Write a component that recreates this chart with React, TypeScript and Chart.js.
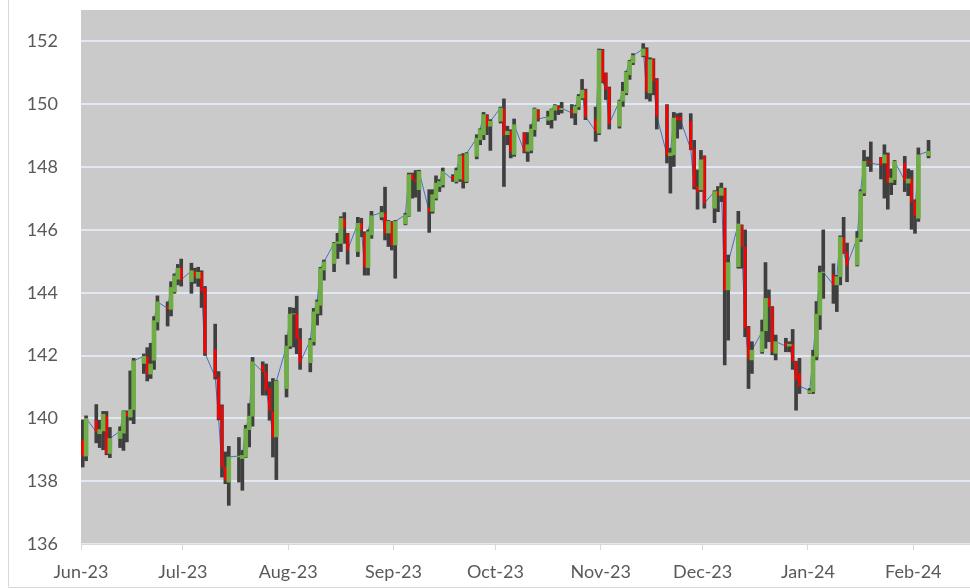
import React, { useEffect, useRef } from "react";
import { Chart, registerables } from "chart.js";

Chart.register(...registerables);

// Trading days (USD/JPY style daily OHLC)
const dates: string[] = [
  "2023-06-01","2023-06-02","2023-06-05","2023-06-06","2023-06-07","2023-06-08","2023-06-09","2023-06-12","2023-06-13","2023-06-14","2023-06-15","2023-06-16","2023-06-19","2023-06-20","2023-06-21","2023-06-22","2023-06-23","2023-06-26","2023-06-27","2023-06-28","2023-06-29","2023-06-30",
  "2023-07-03","2023-07-04","2023-07-05","2023-07-06","2023-07-07","2023-07-10","2023-07-11","2023-07-12","2023-07-13","2023-07-14","2023-07-17","2023-07-18","2023-07-19","2023-07-20","2023-07-21","2023-07-24","2023-07-25","2023-07-26","2023-07-27","2023-07-28","2023-07-31",
  "2023-08-01","2023-08-02","2023-08-03","2023-08-04","2023-08-07","2023-08-08","2023-08-09","2023-08-10","2023-08-11","2023-08-14","2023-08-15","2023-08-16","2023-08-17","2023-08-18","2023-08-21","2023-08-22","2023-08-23","2023-08-24","2023-08-25","2023-08-28","2023-08-29","2023-08-30","2023-08-31",
  "2023-09-01","2023-09-04","2023-09-05","2023-09-06","2023-09-07","2023-09-08","2023-09-11","2023-09-12","2023-09-13","2023-09-14","2023-09-15","2023-09-18","2023-09-19","2023-09-20","2023-09-21","2023-09-22","2023-09-25","2023-09-26","2023-09-27","2023-09-28","2023-09-29",
  "2023-10-02","2023-10-03","2023-10-04","2023-10-05","2023-10-06","2023-10-09","2023-10-10","2023-10-11","2023-10-12","2023-10-13","2023-10-16","2023-10-17","2023-10-18","2023-10-19","2023-10-20","2023-10-23","2023-10-24","2023-10-25","2023-10-26","2023-10-27","2023-10-30","2023-10-31",
  "2023-11-01","2023-11-02","2023-11-03","2023-11-06","2023-11-07","2023-11-08","2023-11-09","2023-11-10","2023-11-13","2023-11-14","2023-11-15","2023-11-16","2023-11-17","2023-11-20","2023-11-21","2023-11-22","2023-11-23","2023-11-24","2023-11-27","2023-11-28","2023-11-29","2023-11-30",
  "2023-12-01","2023-12-04","2023-12-05","2023-12-06","2023-12-07","2023-12-08","2023-12-11","2023-12-12","2023-12-13","2023-12-14","2023-12-15","2023-12-18","2023-12-19","2023-12-20","2023-12-21","2023-12-22","2023-12-25","2023-12-26","2023-12-27","2023-12-28","2023-12-29",
  "2024-01-01","2024-01-02","2024-01-03","2024-01-04","2024-01-05","2024-01-08","2024-01-09","2024-01-10","2024-01-11","2024-01-12","2024-01-15","2024-01-16","2024-01-17","2024-01-18","2024-01-19","2024-01-22","2024-01-23","2024-01-24","2024-01-25","2024-01-26","2024-01-29","2024-01-30","2024-01-31",
  "2024-02-01","2024-02-02","2024-02-05",
];

const opens: number[] = [
  139.30,138.80,139.94,139.51,139.60,140.08,138.88,139.36,139.53,140.18,140.04,140.28,141.75,141.96,141.41,141.85,143.07,143.55,143.47,144.03,144.43,144.78,
  144.35,144.67,144.46,144.65,144.14,142.19,141.30,140.39,138.45,137.97,138.77,138.72,138.77,139.64,140.07,141.69,141.48,140.95,140.20,139.41,140.95,
  142.30,143.32,143.32,142.54,141.77,142.44,143.34,143.60,144.72,144.93,145.57,145.57,146.34,145.87,145.31,146.21,145.89,144.80,145.84,146.41,146.53,145.90,146.24,
  145.52,146.19,146.45,147.76,147.60,147.28,146.69,146.59,147.01,147.38,147.44,147.70,147.54,147.62,148.36,147.54,148.34,148.87,149.03,149.64,149.30,
  149.46,149.85,149.03,149.14,148.40,149.08,148.50,148.53,149.19,149.81,149.49,149.51,149.81,149.93,149.83,149.83,149.72,149.92,150.20,150.45,149.51,149.08,
  151.72,150.98,150.52,149.30,150.10,150.36,150.94,151.32,151.55,151.74,150.36,151.42,150.79,149.96,148.36,148.39,149.60,149.59,149.46,148.57,147.38,147.28,
  148.34,146.69,147.22,147.10,147.30,144.09,144.83,146.13,145.45,142.90,141.86,142.12,142.79,143.82,143.54,142.07,142.39,142.30,142.36,141.80,141.43,
  140.81,140.85,141.96,143.29,144.64,144.57,144.25,144.51,145.74,145.28,144.88,145.70,147.17,148.18,148.15,148.29,148.13,148.39,147.51,147.60,148.13,147.49,147.62,
  146.90,146.37,148.36,
];

const highs: number[] = [
  139.95,140.08,140.44,139.94,140.22,140.22,139.71,139.73,140.24,140.24,141.51,141.91,142.05,142.25,142.39,143.24,143.90,143.71,144.35,144.60,144.90,145.07,
  144.94,144.78,144.81,144.70,144.20,143.00,141.49,140.43,138.93,139.11,139.39,138.98,139.78,140.47,141.94,141.80,141.73,141.16,141.27,141.20,142.65,
  143.53,143.51,143.89,142.86,142.54,143.50,143.77,144.81,145.04,145.60,145.89,146.42,146.55,145.89,146.40,146.37,145.94,146.00,146.59,146.75,147.36,146.30,146.27,
  146.30,146.53,147.81,147.81,147.89,147.90,147.28,147.28,147.72,147.60,147.97,147.76,147.97,148.39,148.43,148.46,149.03,149.22,149.74,149.67,149.51,
  149.91,150.17,149.30,149.19,149.53,149.10,149.10,149.35,149.88,149.83,149.78,149.85,149.99,149.96,150.06,149.99,149.96,150.31,150.79,150.48,149.91,151.76,
  151.75,151.00,150.55,150.13,150.70,151.05,151.40,151.61,151.93,151.80,151.48,151.45,150.82,149.99,148.60,149.74,149.70,149.72,149.70,148.85,147.91,148.53,
  148.36,147.25,147.38,147.49,147.33,145.20,146.59,146.16,146.00,142.93,142.44,143.13,144.96,144.09,143.56,142.65,142.55,142.44,142.83,141.82,141.91,
  140.95,142.17,143.72,144.85,146.00,144.92,144.55,145.81,146.40,145.58,145.95,147.28,148.53,148.32,148.80,148.31,148.71,148.45,147.94,148.21,148.34,147.94,147.89,
  146.96,148.61,148.85,
];

const lows: number[] = [
  138.45,138.65,139.22,139.07,139.00,138.84,138.75,139.07,138.98,139.25,139.94,139.83,141.43,141.19,141.27,141.56,142.81,142.94,143.26,143.98,144.25,144.21,
  143.98,144.30,144.20,143.53,142.00,141.25,139.95,138.13,137.92,137.23,137.97,137.71,138.75,139.09,139.75,140.74,140.74,139.94,138.77,138.05,140.68,
  142.22,142.27,142.06,141.56,141.48,142.33,142.97,143.29,144.40,144.67,145.09,145.31,145.57,144.91,145.15,145.78,144.56,144.56,145.73,146.32,145.68,145.47,145.36,
  144.46,146.16,146.43,147.01,147.04,146.59,145.92,146.53,146.95,147.22,147.36,147.54,147.49,147.54,147.33,147.50,148.26,148.71,148.87,149.03,148.53,
  149.40,147.38,148.71,148.29,148.34,148.45,148.18,148.45,148.98,149.46,149.35,149.24,149.49,149.67,149.72,149.56,149.35,149.83,150.15,149.51,148.82,149.03,
  150.68,150.15,149.21,149.24,149.93,150.30,150.79,151.26,151.51,150.17,150.10,150.30,149.21,148.13,147.17,148.02,148.92,149.21,148.55,147.30,146.66,147.22,
  146.69,146.23,146.58,146.90,141.70,142.49,144.78,144.78,142.60,140.95,141.43,142.07,142.23,142.44,142.02,141.86,142.12,142.12,141.56,140.26,140.79,
  140.79,140.79,141.86,142.83,143.82,143.66,143.40,144.25,145.25,144.35,144.85,145.63,147.09,148.02,147.86,147.62,147.01,146.66,147.12,147.44,147.22,147.09,146.02,
  145.89,146.27,148.29,
];

const closes: number[] = [
  138.80,140.00,139.57,139.64,140.13,138.88,139.36,139.59,140.22,140.08,140.28,141.83,141.98,141.41,141.73,143.11,143.71,143.50,144.17,144.53,144.78,144.41,
  144.70,144.51,144.65,144.06,142.07,141.32,139.99,138.45,138.03,138.77,138.80,138.82,139.67,140.07,141.80,141.48,140.90,140.26,139.41,141.18,142.30,
  143.32,143.33,142.54,141.77,142.49,143.39,143.71,144.77,144.98,145.57,145.62,146.37,146.05,145.36,146.21,146.00,144.83,145.94,146.45,146.55,145.90,146.27,145.52,
  146.27,146.48,147.76,147.60,147.55,147.86,146.59,147.12,147.49,147.54,147.86,147.60,147.89,148.36,147.57,148.43,148.92,149.19,149.67,149.30,149.46,
  149.88,149.03,149.14,148.50,149.35,148.50,148.71,149.21,149.85,149.53,149.60,149.83,149.96,149.83,149.87,149.72,149.93,150.25,150.45,149.60,149.14,151.72,
  150.73,150.47,149.38,150.10,150.41,151.02,151.37,151.55,151.76,150.41,151.42,150.75,149.62,148.39,148.45,149.56,149.50,149.49,148.57,147.38,147.20,148.23,
  146.85,147.22,147.10,147.33,144.09,144.96,146.19,145.47,142.90,141.90,142.17,142.76,143.82,143.56,142.12,142.44,142.30,142.36,141.83,141.22,141.03,
  140.88,141.98,143.32,144.64,144.66,144.25,144.51,145.77,145.28,144.88,145.74,147.22,148.18,148.16,148.12,148.07,148.39,147.51,147.65,148.18,147.57,147.62,146.90,
  146.45,148.39,148.50,
];

const monthTicks: string[] = [
  "2023-06-01","2023-07-01","2023-08-01","2023-09-01","2023-10-01","2023-11-01","2023-12-01","2024-01-01","2024-02-01",
];
const monthLabels: string[] = [
  "Jun-23","Jul-23","Aug-23","Sep-23","Oct-23","Nov-23","Dec-23","Jan-24","Feb-24",
];

const AXIS_START = "2023-06-01";
const X_SPAN_DAYS = 261.7;
const Y_MIN = 136;
const Y_MAX = 153;
const Y_STEP = 2;

const dayIndex = (s: string) =>
  (Date.parse(s + "T00:00:00Z") - Date.parse(AXIS_START + "T00:00:00Z")) / 86400000;

export default function App() {
  const ref = useRef<HTMLCanvasElement>(null);

  useEffect(() => {
    document.body.style.margin = "0";
    const xs = dates.map((d) => dayIndex(d) + 0.5);
    const hiLo = xs.map((x, i) => ({ x, y: [lows[i], highs[i]] }));
    const upBars: any[] = [];
    const downBars: any[] = [];
    xs.forEach((x, i) => {
      const p = { x, y: [opens[i], closes[i]] };
      if (closes[i] >= opens[i]) upBars.push(p);
      else downBars.push(p);
    });
    const closeLine = xs.map((x, i) => ({ x, y: closes[i] }));
    const tickVals = monthTicks.map(dayIndex);

    const font = { family: "Lato, 'Open Sans', sans-serif", size: 18, lineHeight: 1 };

    const frame = {
      id: "frame",
      beforeDraw(chart: any) {
        const { ctx, chartArea } = chart;
        ctx.save();
        ctx.fillStyle = "#CACACA";
        ctx.fillRect(chartArea.left, chartArea.top, chartArea.right - chartArea.left, chartArea.bottom - chartArea.top);
        ctx.restore();
      },
      afterDraw(chart: any) {
        const { ctx, width, height } = chart;
        ctx.save();
        ctx.strokeStyle = "#D9D9D9";
        ctx.lineWidth = 1;
        ctx.beginPath();
        ctx.moveTo(8.5, 0);
        ctx.lineTo(8.5, height - 0.5);
        ctx.lineTo(width, height - 0.5);
        ctx.stroke();
        ctx.restore();
      },
    };

    const chart = new Chart(ref.current as HTMLCanvasElement, {
      type: "bar",
      data: {
        datasets: [
          { type: "bar", data: upBars, backgroundColor: "#70AD47", barThickness: 4, grouped: false, order: 1 } as any,
          { type: "bar", data: downBars, backgroundColor: "#FF0000", barThickness: 2, grouped: false, order: 1 } as any,
          { type: "bar", data: hiLo, backgroundColor: "#3F3F3F", barThickness: 3, grouped: false, order: 2 } as any,
          { type: "line", data: closeLine, borderColor: "#4472C4", borderWidth: 1, pointRadius: 0, tension: 0, order: 3 } as any,
        ],
      },
      options: {
        animation: false,
        responsive: false,
        devicePixelRatio: 1,
        layout: { padding: { top: 10, left: 0, right: 0, bottom: 0 } },
        plugins: { legend: { display: false }, tooltip: { enabled: false } },
        scales: {
          x: {
            type: "linear",
            min: 0,
            max: X_SPAN_DAYS,
            offset: false,
            afterBuildTicks: (s: any) => {
              s.ticks = tickVals.map((v) => ({ value: v }));
            },
            afterFit: (s: any) => {
              s.height = 44;
            },
            grid: { display: true, offset: false, drawOnChartArea: false, drawTicks: true, tickLength: 6, color: "#D9D9D9", lineWidth: 1 },
            border: { display: true, color: "#D9D9D9", width: 1 },
            ticks: {
              autoSkip: false,
              maxRotation: 0,
              minRotation: 0,
              padding: 13,
              color: "#595959",
              font,
              callback: (v: any) => {
                const i = tickVals.indexOf(Number(v));
                return i >= 0 ? monthLabels[i] : "";
              },
            },
          },
          y: {
            min: Y_MIN,
            max: Y_MAX,
            afterFit: (s: any) => {
              s.width = 81;
            },
            grid: { color: "#E2E8F2", lineWidth: 2, drawTicks: true, tickLength: 23, tickColor: "rgba(0,0,0,0)" },
            border: { display: false },
            ticks: { stepSize: Y_STEP, includeBounds: false, padding: 0, color: "#595959", font },
          },
        },
      } as any,
      plugins: [frame],
    });
    return () => chart.destroy();
  }, []);

  return <canvas ref={ref} width={970} height={588} style={{ display: "block" }} />;
}
